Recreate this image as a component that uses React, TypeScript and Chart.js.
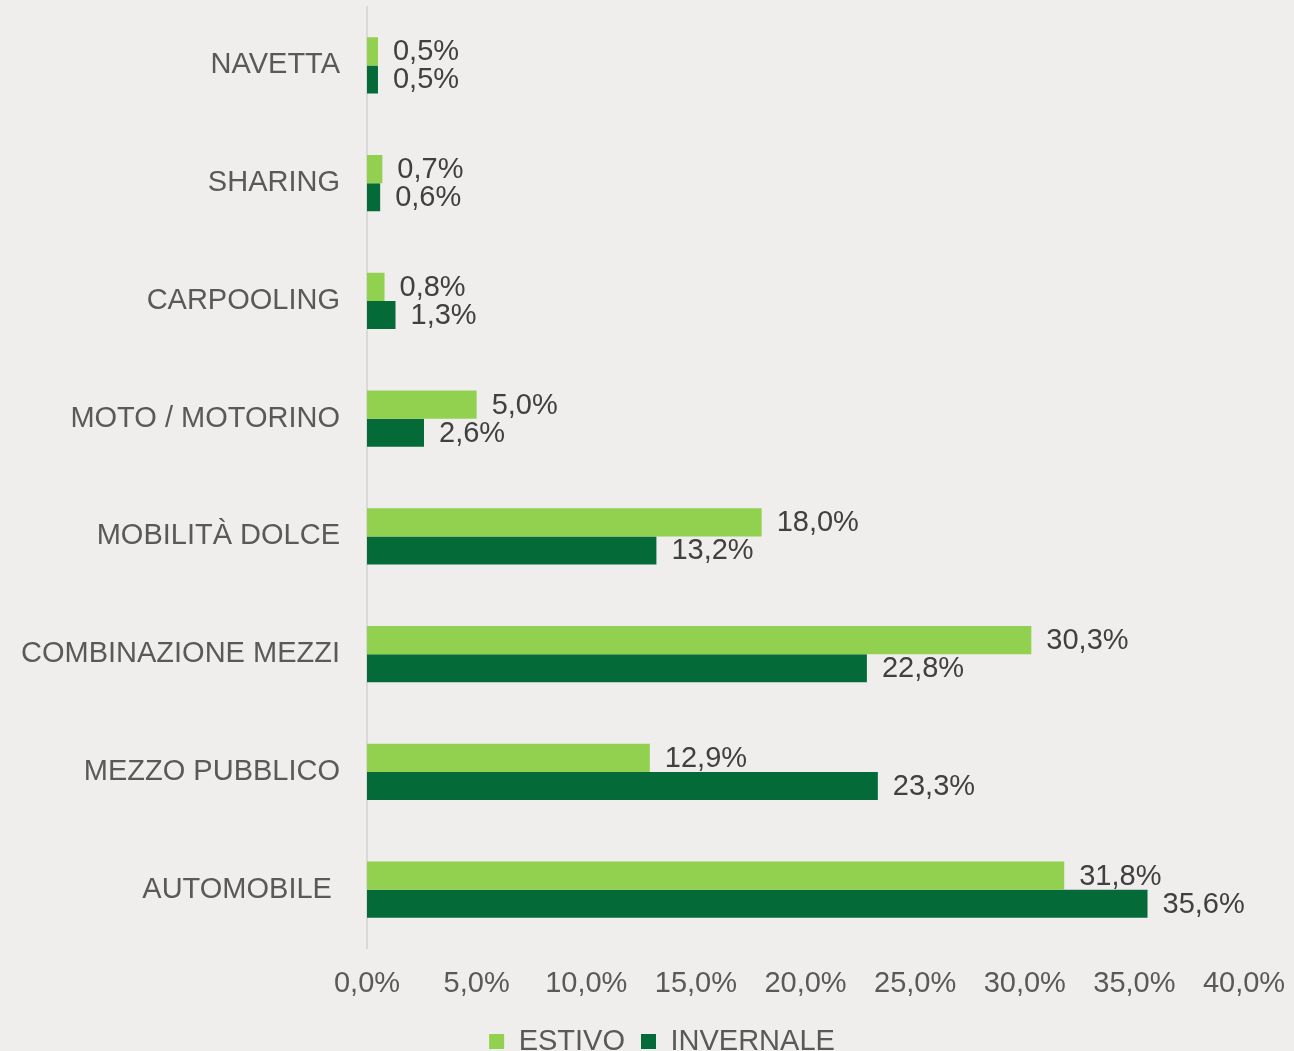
import React, { useEffect, useRef } from "react";
import { Chart, registerables } from "chart.js";

Chart.register(...registerables);

const categories = [
  "NAVETTA",
  "SHARING",
  "CARPOOLING",
  "MOTO / MOTORINO",
  "MOBILITÀ DOLCE",
  "COMBINAZIONE MEZZI",
  "MEZZO PUBBLICO",
  "AUTOMOBILE ",
];
const estivo = [0.5, 0.7, 0.8, 5.0, 18.0, 30.3, 12.9, 31.8];
const invernale = [0.5, 0.6, 1.3, 2.6, 13.2, 22.8, 23.3, 35.6];
const xTickLabels = ["0,0%", "5,0%", "10,0%", "15,0%", "20,0%", "25,0%", "30,0%", "35,0%", "40,0%"];
const seriesNames = ["ESTIVO", "INVERNALE"];

const BG = "#efeeec";
const LIGHT = "#92d050";
const DARK = "#046b38";
const FONT = "'Liberation Sans', Arial, sans-serif";

const fmt = (v: number) => v.toFixed(1).replace(".", ",") + "%";

const valueLabels = {
  id: "valueLabels",
  afterDatasetsDraw(chart: any) {
    const ctx = chart.ctx;
    ctx.save();
    ctx.font = `29px ${FONT}`;
    ctx.fillStyle = "#404040";
    ctx.textAlign = "left";
    ctx.textBaseline = "middle";
    chart.data.datasets.forEach((ds: any, di: number) => {
      const meta = chart.getDatasetMeta(di);
      meta.data.forEach((bar: any, i: number) => {
        ctx.fillText(fmt(ds.data[i]), bar.x + 15, bar.y + 1);
      });
    });
    ctx.restore();
  },
};

// shift the bottom legend so it is centred where the reference has it
const legendShift = {
  id: "legendShift",
  afterLayout(chart: any) {
    if (chart.legend) {
      chart.legend.left += 40;
      chart.legend.right += 40;
    }
  },
};

export default function App() {
  const ref = useRef<HTMLCanvasElement>(null);

  useEffect(() => {
    document.body.style.margin = "0";
    document.body.style.background = BG;
    const chart = new Chart(ref.current!, {
      type: "bar",
      data: {
        labels: categories,
        datasets: [
          {
            label: seriesNames[0],
            data: estivo,
            backgroundColor: LIGHT,
            barPercentage: 1,
            categoryPercentage: 0.476,
          },
          {
            label: seriesNames[1],
            data: invernale,
            backgroundColor: DARK,
            barPercentage: 1,
            categoryPercentage: 0.476,
          },
        ],
      },
      options: {
        indexAxis: "y",
        responsive: false,
        animation: false,
        devicePixelRatio: 1,
        layout: { padding: { top: 6.5, left: 0, right: 50, bottom: 0 } },
        scales: {
          x: {
            min: 0,
            max: 40,
            ticks: {
              stepSize: 5,
              padding: 18,
              color: "#595959",
              font: { family: FONT, size: 29 },
              callback: (_v: any, i: number) => xTickLabels[i],
            },
            grid: { display: false, drawTicks: false },
            border: { display: false },
            afterFit: (s: any) => {
              s.height = 62.5;
              s.paddingLeft = 0;
              s.paddingRight = 0;
            },
          },
          y: {
            ticks: {
              padding: 0,
              color: "#595959",
              font: { family: FONT, size: 29 },
            },
            grid: { display: false, drawTicks: true, tickLength: 27, tickColor: "rgba(0,0,0,0)" },
            border: { display: true, color: "#d9d9d9", width: 2 },
            afterFit: (s: any) => {
              s.width = 367;
              s.paddingTop = 0;
              s.paddingBottom = 0;
            },
          },
        },
        plugins: {
          legend: {
            position: "bottom",
            labels: {
              boxWidth: 15,
              boxHeight: 15,
              padding: 16,
              color: "#595959",
              font: { family: FONT, size: 29 },
            },
          },
          tooltip: { enabled: false },
        },
      },
      plugins: [valueLabels, legendShift],
    });
    return () => chart.destroy();
  }, []);

  return (
    <div style={{ width: 1294, height: 1051, overflow: "hidden", background: BG, position: "relative" }}>
      <canvas ref={ref} width={1294} height={1066} style={{ display: "block" }} />
    </div>
  );
}
